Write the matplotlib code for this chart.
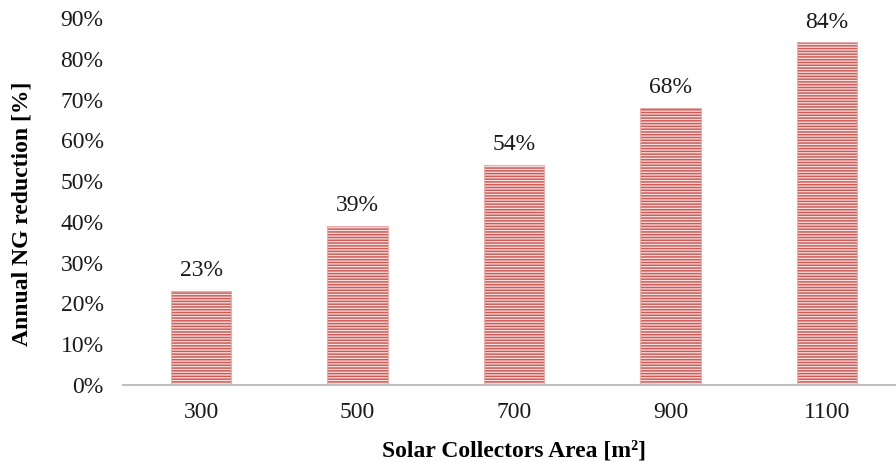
import matplotlib
matplotlib.use('Agg')
import matplotlib.pyplot as plt
from matplotlib.ticker import PercentFormatter

# annual natural gas reduction vs collector field area
areas = ['300', '500', '700', '900', '1100']
reduction = [23, 39, 54, 68, 84]
yticks = [0, 10, 20, 30, 40, 50, 60, 70, 80, 90]

plt.rcParams['font.family'] = ['Liberation Serif', 'DejaVu Serif']
plt.rcParams['hatch.linewidth'] = 1.1

fig = plt.figure(figsize=(8.96, 4.62), dpi=100)
ax = fig.add_axes([123 / 896, 1 - 385 / 462, 782 / 896, 367 / 462])

x = range(len(areas))
# filled pink bars with dense red horizontal stripes
ax.bar(x, reduction, width=0.385, color='#f6e0df', linewidth=0)
ax.bar(x, reduction, width=0.385, color='none', edgecolor='#cd5b58',
       linewidth=0, hatch='------')
ax.bar(x, reduction, width=0.385, color='none', edgecolor='#e8aeac',
       linewidth=0.8)

for xi, v in zip(x, reduction):
    ax.annotate('%d%%' % v, (xi, v), xytext=(0, 7), textcoords='offset points',
                ha='center', va='bottom', fontsize=17, color='#1a1a1a')

ax.set_xlim(-0.5, 4.5)
ax.set_ylim(0, 90)
ax.set_yticks(yticks)
ax.yaxis.set_major_formatter(PercentFormatter(decimals=0))
ax.set_xticks(list(x))
ax.set_xticklabels(areas)
ax.tick_params(axis='both', length=0, labelsize=17, colors='#1a1a1a')
ax.tick_params(axis='y', pad=14)
ax.tick_params(axis='x', pad=12)

for s in ['top', 'right', 'left']:
    ax.spines[s].set_visible(False)
ax.spines['bottom'].set_color('#bfbfbf')
ax.spines['bottom'].set_linewidth(1.5)

ax.set_xlabel('Solar Collectors Area [m²]', fontsize=17, fontweight='bold',
              labelpad=13)
ax.set_ylabel('Annual NG reduction [%]', fontsize=17, fontweight='bold')
ax.yaxis.set_label_coords(-0.116, 0.466)

plt.savefig('out.png', dpi=100)
